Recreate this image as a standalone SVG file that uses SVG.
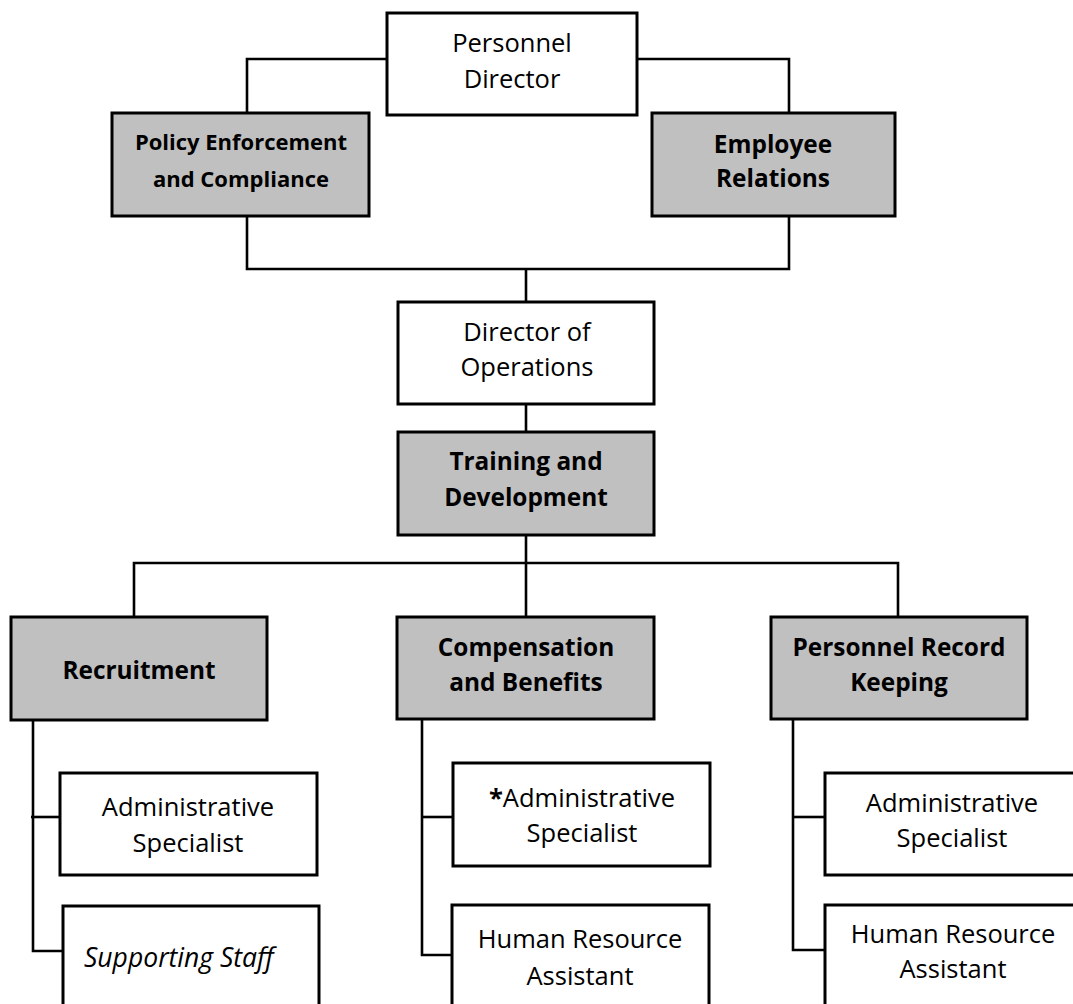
<svg xmlns="http://www.w3.org/2000/svg" width="1073" height="1004" viewBox="0 0 1073 1004">
  <style>
    .box { stroke: #000; stroke-width: 3; fill: #fff; }
    .unit { fill: #c0c0c0; }
    .wire { fill: none; stroke: #000; stroke-width: 2.6; }
    text { font-family: "Open Sans", "Liberation Sans", sans-serif; font-size: 25.5px; fill: #000; text-anchor: middle; }
    .b { font-weight: bold; font-size: 24.4px; }
    .i { font-style: italic; text-anchor: start; font-size: 26.5px; }
    .sm { font-size: 22px; }
    tspan.b { font-size: 25.5px; }
  </style>
  <rect width="1073" height="1004" fill="#fff"/>

  <!-- reporting lines -->
  <g id="connectors">
    <path class="wire" d="M387 59 H247 V113"/>
    <path class="wire" d="M637 59 H789 V113"/>
    <path class="wire" d="M247 216 V269 H789 V216"/>
    <path class="wire" d="M526 269 V302"/>
    <path class="wire" d="M526 404 V432"/>
    <path class="wire" d="M526 535 V563"/>
    <path class="wire" d="M134 617 V563 H898 V617"/>
    <path class="wire" d="M526 563 V617"/>
    <path class="wire" d="M33 720 V951 H63"/>
    <path class="wire" d="M31 817 H60"/>
    <path class="wire" d="M422 719 V955 H452"/>
    <path class="wire" d="M422 817 H453"/>
    <path class="wire" d="M793 719 V950 H825"/>
    <path class="wire" d="M793 817 H825"/>
  </g>

  <g id="personnel-director">
    <rect class="box" x="387" y="13" width="250" height="102"/>
    <text x="512" y="52">Personnel</text>
    <text x="512" y="88">Director</text>
  </g>

  <g id="policy-enforcement">
    <rect class="box unit" x="112" y="113" width="257" height="103"/>
    <text class="b sm" x="241" y="150">Policy Enforcement</text>
    <text class="b sm" x="241" y="187">and Compliance</text>
  </g>

  <g id="employee-relations">
    <rect class="box unit" x="652" y="113" width="243" height="103"/>
    <text class="b" x="773" y="153">Employee</text>
    <text class="b" x="773" y="187">Relations</text>
  </g>

  <g id="director-operations">
    <rect class="box" x="398" y="302" width="256" height="102"/>
    <text x="527" y="341">Director of</text>
    <text x="527" y="376">Operations</text>
  </g>

  <g id="training-development">
    <rect class="box unit" x="398" y="432" width="256" height="103"/>
    <text class="b" x="526" y="470">Training and</text>
    <text class="b" x="526" y="506">Development</text>
  </g>

  <g id="recruitment">
    <rect class="box unit" x="11" y="617" width="256" height="103"/>
    <text class="b" x="139" y="679">Recruitment</text>
  </g>

  <g id="compensation-benefits">
    <rect class="box unit" x="397" y="617" width="257" height="102"/>
    <text class="b" x="526" y="656">Compensation</text>
    <text class="b" x="526" y="691">and Benefits</text>
  </g>

  <g id="record-keeping">
    <rect class="box unit" x="771" y="617" width="256" height="102"/>
    <text class="b" x="899" y="656">Personnel Record</text>
    <text class="b" x="899" y="691">Keeping</text>
  </g>

  <g id="recruitment-admin">
    <rect class="box" x="60" y="773" width="257" height="102"/>
    <text x="188" y="816">Administrative</text>
    <text x="188" y="852">Specialist</text>
  </g>

  <g id="supporting-staff">
    <rect class="box" x="63" y="906" width="256" height="110"/>
    <text class="i" x="84" y="967">Supporting Staff</text>
  </g>

  <g id="compensation-admin">
    <rect class="box" x="453" y="763" width="257" height="103"/>
    <text x="582" y="807"><tspan class="b">*</tspan>Administrative</text>
    <text x="582" y="842">Specialist</text>
  </g>

  <g id="compensation-hr">
    <rect class="box" x="452" y="905" width="257" height="110"/>
    <text x="580" y="948">Human Resource</text>
    <text x="580" y="985">Assistant</text>
  </g>

  <g id="records-admin">
    <rect class="box" x="825" y="773" width="260" height="102"/>
    <text x="952" y="812">Administrative</text>
    <text x="952" y="847">Specialist</text>
  </g>

  <g id="records-hr">
    <rect class="box" x="825" y="905" width="260" height="110"/>
    <text x="953" y="943">Human Resource</text>
    <text x="953" y="978">Assistant</text>
  </g>
</svg>
